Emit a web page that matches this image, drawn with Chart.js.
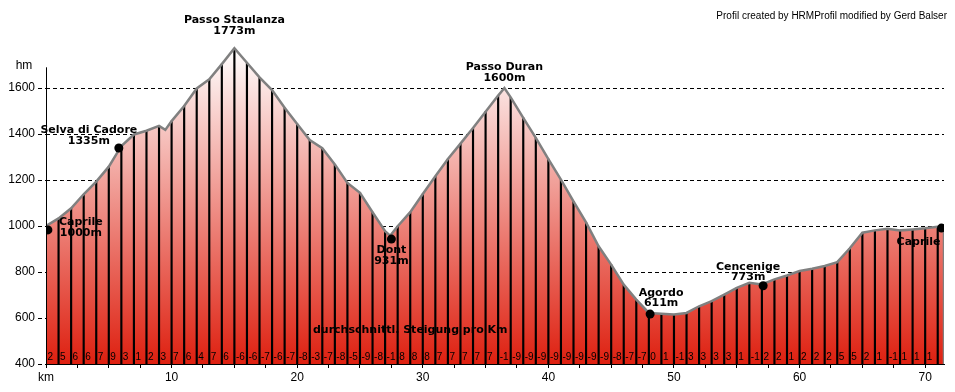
<!DOCTYPE html>
<html>
<head>
<meta charset="utf-8">
<title>Höhenprofil Caprile</title>
<script src="https://cdn.jsdelivr.net/npm/chart.js@4.4.1/dist/chart.umd.min.js"></script>
<style>
  html, body { margin: 0; padding: 0; background: #fff; }
  .chart-box { width: 955px; height: 392px; position: relative; }
</style>
</head>
<body>
<div class="chart-box"><canvas id="profileChart"></canvas></div>
<script>
// profile: distance (km) and elevation (m)
const distanceKm = [
  0, 1, 2, 3, 4, 5, 6, 7, 8, 9, 9.5, 10, 11, 12, 13, 14, 15, 16, 17, 18, 19, 20,
  21, 22, 23, 24, 25, 26, 27, 27.4, 28, 29, 30, 31, 32, 33, 34, 35, 36, 36.5, 37,
  38, 39, 40, 41, 42, 43, 44, 45, 46, 47, 48, 49, 50, 51, 52, 53, 54, 55, 56, 57,
  58, 59, 60, 61, 62, 63, 64, 65, 66, 67, 68, 69, 70, 71, 71.5, 71.5
];
const elevationM = [
  1000, 1033, 1077, 1138, 1193, 1258, 1348, 1398, 1414, 1435, 1418, 1456, 1522, 1598, 1638, 1704, 1773, 1710, 1646, 1591, 1514, 1443,
  1374, 1338, 1268, 1187, 1144, 1060, 977, 958, 999, 1060, 1139, 1216, 1291, 1358, 1426, 1497, 1567, 1600, 1559,
  1470, 1383, 1291, 1202, 1107, 1016, 912, 832, 745, 680, 622, 618, 615, 622, 651, 673, 702, 731, 753, 746,
  768, 785, 804, 814, 826, 843, 903, 971, 981, 988, 981, 985, 990, 997, 1000, 400
];

// average gradient (%) for each km, km 0 .. 70
const gradientPerKm = [
  2, 5, 6, 6, 7, 9, 3, 1, 2, 3, 7, 6, 4, 7, 6, -6, -6, -7, -6, -7, -8, -3, -7, -8, -5, -9, -8, -1,
  8, 8, 8, 7, 7, 7, 7, 7, -1, -9, -9, -9, -9, -9, -9, -9, -9, -8, -7, -7, 0, 1, -1, 3, 3, 3, 3,
  1, -1, 2, 2, 1, 2, 2, 2, 5, 5, 2, 1, -1, 1, 1, 1
];

// places along the route
const placeNames = ['Caprile', 'Selva di Cadore', 'Passo Staulanza', 'Dont', 'Passo Duran', 'Agordo', 'Cencenige', 'Caprile'];
const placeHeights = ['1000m', '1335m', '1773m', '931m', '1600m', '611m', '773m', ''];
const placeKm = [0.15, 5.8, 15, 27.5, 36.5, 48.1, 57.1, 71.3];
const placeElevation = [983, 1339, 1773, 943, 1600, 617, 740, 991];
const placeMarked = [true, true, false, true, false, true, true, true];

const yTickValues = [400, 600, 800, 1000, 1200, 1400, 1600];
const xTickStep = 2.5;
const xLabelStep = 10;

// label offsets in px from the place point: [dx, dy of name, dy of height]
const labelOffsets = [
  [33, -8, 3], [-30, -18, -7], [0, -28, -17], [0, 11, 22],
  [0, -21, -10], [11, -21, -11], [-15, -19, -9], [-23, 14, 0]
];

const LABEL_FONT = 'bold 11px "DejaVu Sans"';
const PLAIN_FONT = '"Liberation Sans", Arial, sans-serif';

const profilePoints = distanceKm.map((x, i) => ({ x, y: elevationM[i] }));
const kmLines = profilePoints.filter((p) => Number.isInteger(p.x) && p.x > 0 && p.y > 400);
const markers = placeKm
  .map((x, i) => ({ x, y: placeElevation[i] }))
  .filter((p, i) => placeMarked[i]);

function profileFill(context) {
  const { chart } = context;
  const { chartArea, scales } = chart;
  if (!chartArea) return null;
  const top = scales.y.getPixelForValue(Math.max(...elevationM));
  const gradient = chart.ctx.createLinearGradient(0, top, 0, chartArea.bottom);
  gradient.addColorStop(0, '#ffffff');
  gradient.addColorStop(1, 'rgb(222, 32, 16)');
  return gradient;
}

const textPlugin = {
  id: 'profileText',
  afterDraw(chart) {
    const { ctx, chartArea, scales } = chart;
    const xs = scales.x;
    const ys = scales.y;
    ctx.save();

    // y axis line, stops a little above the last tick
    ctx.strokeStyle = '#000';
    ctx.lineWidth = 1;
    ctx.beginPath();
    ctx.moveTo(chartArea.left + 0.5, ys.getPixelForValue(1690));
    ctx.lineTo(chartArea.left + 0.5, chartArea.bottom);
    ctx.stroke();

    ctx.fillStyle = '#000';
    ctx.textBaseline = 'middle';
    ctx.textAlign = 'center';
    ctx.font = '12px ' + PLAIN_FONT;
    ctx.fillText('hm', 24, ys.getPixelForValue(1690) - 2);

    // gradient row
    ctx.font = '10px ' + PLAIN_FONT;
    ctx.textAlign = 'left';
    gradientPerKm.forEach((g, km) => {
      ctx.fillText(String(g), xs.getPixelForValue(km) + 1.5, chartArea.bottom - 7);
    });

    ctx.font = LABEL_FONT;
    ctx.textAlign = 'center';
    ctx.fillText('durchschnittl. Steigung pro Km', xs.getPixelForValue(29), chartArea.bottom - 34);

    // place names
    placeNames.forEach((name, i) => {
      const px = xs.getPixelForValue(placeKm[i]);
      const py = ys.getPixelForValue(placeElevation[i]);
      const [dx, dyName, dyHeight] = labelOffsets[i];
      ctx.fillText(name, px + dx, py + dyName);
      if (placeHeights[i]) ctx.fillText(placeHeights[i], px + dx, py + dyHeight);
    });

    ctx.font = '10px ' + PLAIN_FONT;
    ctx.textAlign = 'right';
    ctx.fillText('Profil created by HRMProfil modified by Gerd Balser', 947, 16);
    ctx.restore();
  }
};

const chart = new Chart(document.getElementById('profileChart'), {
  data: {
    datasets: [
      {
        type: 'line',
        data: markers,
        showLine: false,
        pointRadius: 4.5,
        pointBackgroundColor: '#000',
        pointBorderWidth: 0,
        order: 0
      },
      {
        type: 'line',
        data: profilePoints,
        borderColor: '#808080',
        borderWidth: 2.5,
        pointRadius: 0,
        tension: 0,
        fill: 'start',
        backgroundColor: profileFill,
        order: 1
      },
      {
        type: 'bar',
        data: kmLines,
        backgroundColor: '#000',
        barThickness: 1.5,
        grouped: false,
        order: 2
      }
    ]
  },
  options: {
    responsive: true,
    maintainAspectRatio: false,
    animation: false,
    events: [],
    layout: { padding: { top: 42, right: 11, left: 0, bottom: 0 } },
    plugins: {
      legend: { display: false },
      tooltip: { enabled: false },
      filler: { drawTime: 'beforeDatasetsDraw' }
    },
    scales: {
      x: {
        type: 'linear',
        min: 0,
        max: 71.5,
        offset: false,
        z: 1,
        afterFit: (scale) => { scale.height = 28; },
        afterBuildTicks: (scale) => {
          const ticks = [];
          for (let v = 0; v <= 70; v += xTickStep) ticks.push({ value: v });
          scale.ticks = ticks;
        },
        ticks: {
          autoSkip: false,
          maxRotation: 0,
          padding: 2,
          color: '#000',
          font: { family: PLAIN_FONT, size: 12 },
          callback: (v) => (v === 0 ? 'km' : v % xLabelStep === 0 ? String(v) : '')
        },
        grid: { drawOnChartArea: false, drawTicks: true, tickLength: 4, color: '#000', offset: false },
        border: { display: true, color: '#000', width: 1 }
      },
      y: {
        type: 'linear',
        min: 400,
        max: 1800,
        z: 1,
        afterFit: (scale) => { scale.width = 46; },
        afterBuildTicks: (scale) => {
          scale.ticks = yTickValues.map((value) => ({ value }));
        },
        ticks: {
          padding: 3,
          color: '#000',
          font: { family: PLAIN_FONT, size: 12 },
          callback: (v) => String(v)
        },
        grid: {
          color: '#000',
          lineWidth: 1,
          tickLength: 8,
          tickBorderDash: [4, 3]
        },
        border: { display: false, dash: [4, 3] }
      }
    }
  },
  plugins: [textPlugin]
});
</script>
</body>
</html>
